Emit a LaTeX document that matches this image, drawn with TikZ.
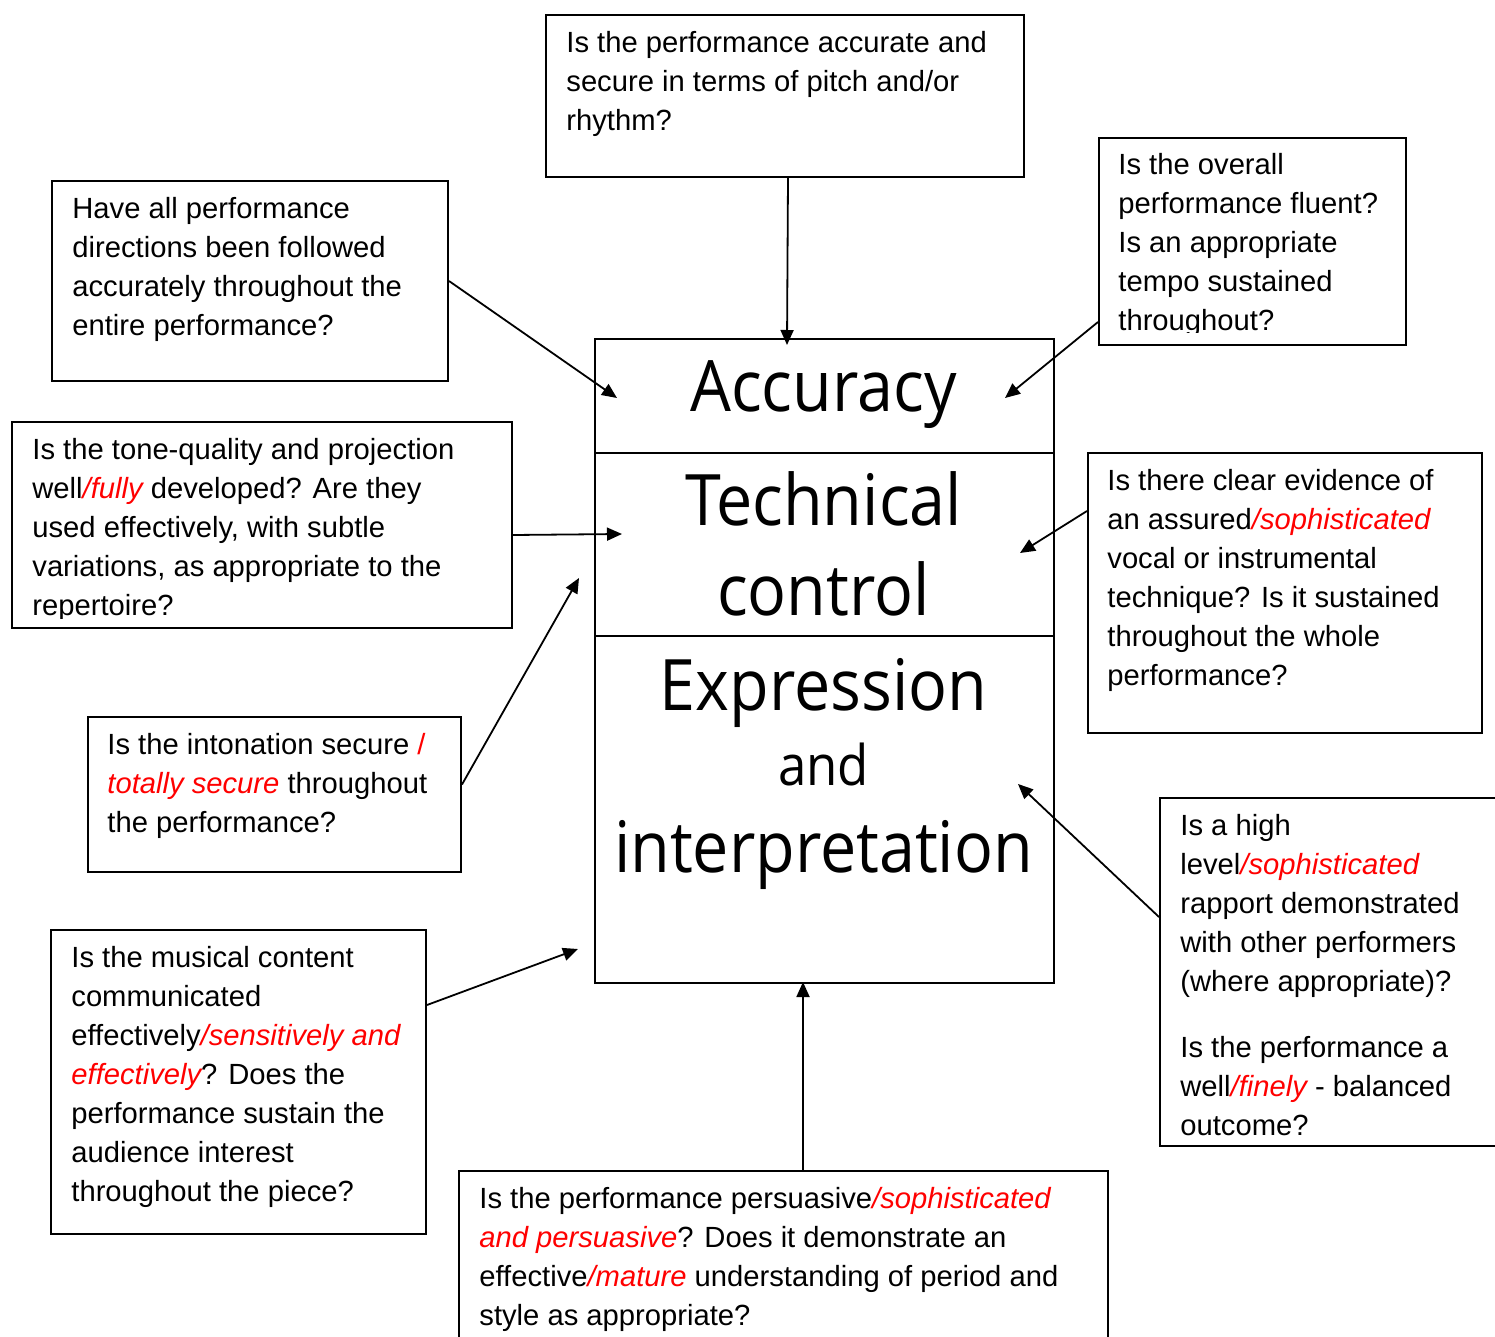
\documentclass[tikz,border=0pt]{standalone}
\usepackage{fontspec}
\setmainfont{Liberation Sans}
\newfontfamily\bigf[FakeStretch=0.91]{Open Sans}
\usetikzlibrary{arrows.meta}
\newcommand\fs{\rule{0pt}{12pt}}
\newcommand\rd[1]{\textcolor{red}{\itshape #1}}
\begin{document}
\begin{tikzpicture}[x=0.5pt,y=-0.5pt,
 box/.style={draw,line width=1pt,inner sep=0pt,anchor=north west},
 txt/.style={inner sep=0pt,anchor=north west,align=left,font=\fontsize{14.6pt}{19.5pt}\selectfont},
 big/.style={inner sep=0pt,anchor=base,font=\bigf\fontsize{35.5pt}{40pt}\selectfont},
 arr/.style={line width=0.9pt,-{Triangle[length=7.5pt,width=6.5pt]}}]
\clip (0,0) rectangle (1495,1337);
\fill[white] (0,0) rectangle (1495,1337);

% central boxes
\node[box,minimum width=229.5pt,minimum height=57pt] (acc) at (594,338) {};
\node[box,minimum width=229.5pt,minimum height=91.5pt] (tech) at (594,452) {};
\node[box,minimum width=229.5pt,minimum height=173.5pt] (expr) at (594,635) {};
\node[big] (accT) at (823.5,412) {Accuracy};
\node[big] (techT) at (823.5,525) {Technical};
\node[big] (ctrlT) at (823.5,615) {control};
\node[big] (exprT) at (823.5,710) {Expression};
\node[big,font=\bigf\fontsize{28pt}{32pt}\selectfont] (andT) at (823.5,785) {and};
\node[big] (intT) at (823.5,872) {interpretation};

% question boxes
\node[box,minimum width=239pt,minimum height=81pt] (top) at (545,14) {};
\node[txt] (topT) at (566,28) {\fs Is the performance accurate and\\secure in terms of pitch and/or\\rhythm?};

\node[box,minimum width=153.5pt,minimum height=103.5pt] (tr) at (1098,137) {};
\begin{scope}
\clip (1098,137) rectangle (1405,333);
\node[txt] (trT) at (1118,150) {\fs Is the overall\\performance fluent?\\Is an appropriate\\tempo sustained\\throughout?};
\end{scope}

\node[box,minimum width=198pt,minimum height=100pt] (tl) at (51,180) {};
\node[txt] (tlT) at (72,194) {\fs Have all performance\\directions been followed\\accurately throughout the\\entire performance?};

\node[box,minimum width=250pt,minimum height=103pt] (tone) at (11,421) {};
\begin{scope}
\clip (11,421) rectangle (511,618);
\node[txt] (toneT) at (32,435) {\fs Is the tone-quality and projection\\well\rd{/fully} developed? Are they\\used effectively, with subtle\\variations, as appropriate to the\\repertoire?};
\end{scope}

\node[box,minimum width=186.5pt,minimum height=77.5pt] (inton) at (87,716) {};
\node[txt] (intonT) at (107,730) {\fs Is the intonation secure \textcolor{red}{/}\\\rd{totally secure} throughout\\the performance?};

\node[box,minimum width=187.5pt,minimum height=152pt] (mus) at (50,929) {};
\node[txt] (musT) at (71,943) {\fs Is the musical content\\communicated\\effectively\rd{/sensitively and}\\\rd{effectively}? Does the\\performance sustain the\\audience interest\\throughout the piece?};

\node[box,minimum width=324.5pt,minimum height=100pt] (bot) at (458,1170) {};
\node[txt] (botT) at (479,1184) {\fs Is the performance persuasive\rd{/sophisticated}\\\rd{and persuasive}? Does it demonstrate an\\effective\rd{/mature} understanding of period and\\style as appropriate?};

\node[box,minimum width=197pt,minimum height=140pt] (rm) at (1087,452) {};
\node[txt] (rmT) at (1107,466) {\fs Is there clear evidence of\\an assured\rd{/sophisticated}\\vocal or instrumental\\technique? Is it sustained\\throughout the whole\\performance?};

\node[box,minimum width=200pt,minimum height=174pt] (br) at (1159,797) {};
\node[txt] (brT) at (1180,811) {\fs Is a high\\level\rd{/sophisticated}\\rapport demonstrated\\with other performers\\(where appropriate)?\\[13.5pt]Is the performance a\\well\rd{/finely} - balanced\\outcome?};

% arrow tips
\coordinate (pTop) at (787,345);
\coordinate (pTL) at (617,398);
\coordinate (pTR) at (1005,398);
\coordinate (pTone) at (622,534);
\coordinate (pInt) at (579,578);
\coordinate (pRM) at (1020,553);
\coordinate (pMus) at (578,949);
\coordinate (pBR) at (1018,784);
\coordinate (pBot) at (803,982);

\draw[arr] ([xshift=1.5pt]top.south) -- (pTop);
\draw[arr] (tl.east) -- (pTL);
\draw[arr] ([yshift=12pt]tr.south west) -- (pTR);
\draw[arr] ([yshift=-5pt]tone.east) -- (pTone);
\draw[arr] ([yshift=5pt]inton.east) -- (pInt);
\draw[arr] ([yshift=-29.5pt]rm.north west) -- (pRM);
\draw[arr] ([yshift=-38pt]mus.north east) -- (pMus);
\draw[arr] ([yshift=-60pt]br.north west) -- (pBR);
\draw[arr] ([xshift=172.5pt]bot.north west) -- (pBot);
\end{tikzpicture}
\end{document}
